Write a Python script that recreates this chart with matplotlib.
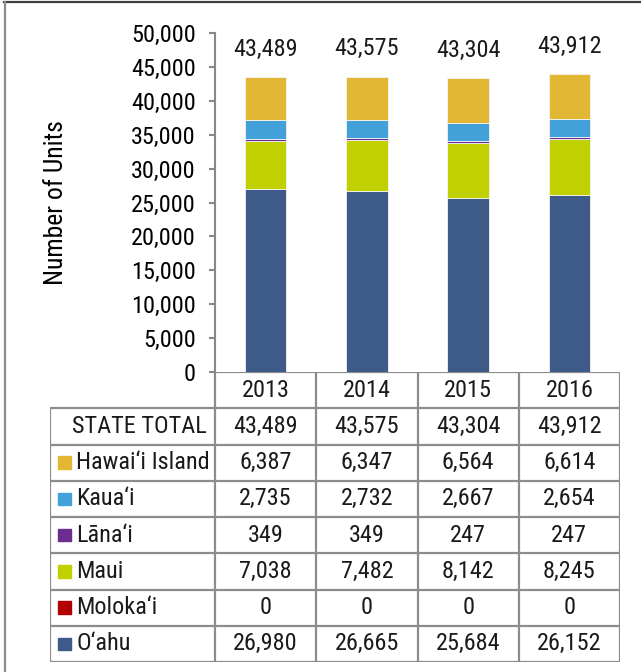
import numpy as np
import matplotlib
matplotlib.use("Agg")
import matplotlib.pyplot as plt
from matplotlib.patches import Rectangle
from matplotlib.lines import Line2D
from matplotlib.ticker import FuncFormatter

# data
years = ["2013", "2014", "2015", "2016"]
state_total = [43489, 43575, 43304, 43912]
hawaii = [6387, 6347, 6564, 6614]
kauai = [2735, 2732, 2667, 2654]
lanai = [349, 349, 247, 247]
maui = [7038, 7482, 8142, 8245]
molokai = [0, 0, 0, 0]
oahu = [26980, 26665, 25684, 26152]

# stacking order (bottom -> top); the table lists them top -> bottom
series_names = ["O\u2018ahu", "Moloka\u2018i", "Maui", "L\u0101na\u2018i", "Kaua\u2018i", "Hawai\u2018i Island"]
series_values = [oahu, molokai, maui, lanai, kauai, hawaii]
series_colors = ["#3D5A89", "#B00000", "#C0D000", "#6B2D8F", "#42A1D9", "#E2B733"]

# Arial Narrow look-alike
plt.rcParams["font.family"] = ["Roboto Condensed", "Archivo Narrow", "Liberation Sans", "DejaVu Sans"]
plt.rcParams["font.size"] = 17.5
plt.rcParams["text.color"] = "#1a1a1a"
fs = 17.5

W, H = 641, 672
fig = plt.figure(figsize=(W / 100, H / 100), dpi=100)

# chart axes: data columns span 215..620 px, y from 33 (50k) to 372 (0)
ax = fig.add_axes([215 / W, (H - 372) / H, 405 / W, 339 / H])
x = np.arange(len(years))
bottom = np.zeros(len(years))
for name, vals, col in zip(series_names, series_values, series_colors):
    ax.bar(x, vals, width=0.41, bottom=bottom, color=col, edgecolor="#f4f4f4",
           linewidth=0.6, label=name, zorder=2)
    bottom += np.array(vals)

# totals above the bars
for xi, tot in zip(x, state_total):
    ax.annotate(f"{tot:,}", (xi, tot), xytext=(0, 12), textcoords="offset points",
                ha="center", va="bottom", fontsize=fs)

ax.set_xlim(-0.5, len(years) - 0.5)
ax.set_ylim(0, 50000)
ax.set_yticks(np.arange(0, 50001, 5000))
ax.yaxis.set_major_formatter(FuncFormatter(lambda v, p: f"{int(v):,}"))
ax.set_xticks([])
for s in ["top", "right", "bottom"]:
    ax.spines[s].set_visible(False)
ax.spines["left"].set_color("#888888")
ax.spines["left"].set_linewidth(1.5)
ax.tick_params(axis="y", direction="out", length=4, width=1.5, color="#888888",
               labelsize=fs, pad=10)
ax.set_ylabel("Number of Units", fontsize=18.5)
ax.yaxis.set_label_coords(-0.364, 0.5)

# data table underneath the chart
lab_w = 165 / 101.25
tab = fig.add_axes([50 / W, (H - 662) / H, 570 / W, 290 / H])
tab.set_xlim(-0.5 - lab_w, len(years) - 0.5)
nrows = len(series_names) + 2
tab.set_ylim(nrows, 0)
tab.axis("off")

lc = "#8c8c8c"
lw = 1.6
left = -0.5 - lab_w
right = len(years) - 0.5
tab.plot([-0.5, right], [0, 0], color=lc, lw=lw, solid_capstyle="butt")
for r in range(1, nrows + 1):
    tab.plot([left, right], [r, r], color=lc, lw=lw, solid_capstyle="butt")
for c in np.arange(-0.5, right + 0.01, 1.0):
    tab.plot([c, c], [0, nrows], color=lc, lw=lw, solid_capstyle="butt")
tab.plot([left, left], [1, nrows], color=lc, lw=lw, solid_capstyle="butt")

for xi, yr in zip(x, years):
    tab.text(xi, 0.5, yr, ha="center", va="center", fontsize=fs)

tab.text(-0.58, 1.5, "STATE TOTAL", ha="right", va="center", fontsize=fs)
for xi, tot in zip(x, state_total):
    tab.text(xi, 1.5, f"{tot:,}", ha="center", va="center", fontsize=fs)

table_rows = list(zip(series_names, series_values, series_colors))[::-1]
for i, (name, vals, col) in enumerate(table_rows):
    r = i + 2
    tab.add_patch(Rectangle((left + 0.08, r + 0.33), 0.13, 0.34, color=col))
    tab.text(left + 0.26, r + 0.5, name, ha="left", va="center", fontsize=fs)
    for xi, v in zip(x, vals):
        tab.text(xi, r + 0.5, f"{v:,}", ha="center", va="center", fontsize=fs)

# outer frame of the figure (only top and left edges are in view)
fig.add_artist(Line2D([4 / W, 1], [1 - 2 / H, 1 - 2 / H], color="#404040", lw=1.6))
fig.add_artist(Line2D([4.5 / W, 4.5 / W], [0, 1 - 2 / H], color="#8c8c8c", lw=1.6))

fig.savefig("out.png", dpi=100)
